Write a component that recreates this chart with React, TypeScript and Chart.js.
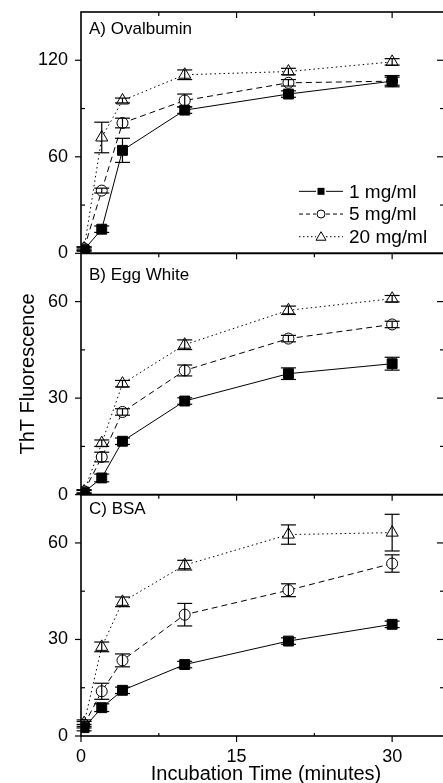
import { useEffect, useRef } from "react";
import { Chart, registerables } from "chart.js";

Chart.register(...registerables);

// ---------- data ----------
const times = [0.3, 2, 4, 10, 20, 30];
const seriesLabels = ["1 mg/ml", "5 mg/ml", "20 mg/ml"];
const panelTitles = ["A) Ovalbumin", "B) Egg White", "C) BSA"];

// A) Ovalbumin
const ova1 = [2.3, 15, 64, 89, 99, 107];
const ova1Err = [1, 2, 7.5, 2, 2, 2.5];
const ova5 = [3, 39, 81, 95, 106, 107];
const ova5Err = [1, 1.5, 3, 4, 2, 3.5];
const ova20 = [3, 72, 95, 111, 113, 119];
const ova20Err = [1, 9.5, 1.5, 3, 2, 2];

// B) Egg White
const egg1 = [0.8, 5.2, 16.6, 29.1, 37.6, 40.7];
const egg1Err = [0.5, 1.2, 1, 1, 1.8, 2];
const egg5 = [1, 11.7, 25.7, 38.6, 48.5, 52.9];
const egg5Err = [0.5, 1.5, 1, 1.7, 1, 1];
const egg20 = [1, 16, 34.5, 46.6, 57.3, 60.9];
const egg20Err = [0.5, 1, 1, 1.5, 1.3, 1];

// C) BSA
const bsa1 = [2.6, 8.8, 14.2, 22.2, 29.5, 34.7];
const bsa1Err = [1, 1.2, 1, 1, 1, 1];
const bsa5 = [3.5, 13.9, 23.5, 37.7, 45.3, 53.6];
const bsa5Err = [1, 2.5, 2, 3.5, 2, 2.7];
const bsa20 = [4, 27.7, 41.7, 53.1, 62.6, 63.2];
const bsa20Err = [1, 1.5, 1.5, 1.5, 3, 5.7];

// ticks
const xMax = 35;
const xTickValues = [0, 7.5, 15, 22.5, 30];
const xTickLabels = [0, 15, 30];
const yMaxA = 150;
const yTicksA = [0, 30, 60, 90, 120, 150];
const yLabelsA = [0, 60, 120];
const yMaxBC = 75;
const yTicksBC = [0, 15, 30, 45, 60, 75];
const yLabelsBC = [0, 30, 60];

const xTitle = "Incubation Time (minutes)";
const yTitle = "ThT Fluorescence";

// ---------- styling ----------
const FONT = "'Liberation Sans', Arial, Helvetica, sans-serif";
const lineDashes = [[], [6, 4], [1.5, 3]];
const pointStyles = ["rect", "circle", "triangle"];
const pointRadii = [7, 5.5, 7];
const pointFills = ["#000", "#fff", "#fff"];

const panels = [
  { id: "yA", title: panelTitles[0], values: [ova1, ova5, ova20], errs: [ova1Err, ova5Err, ova20Err], max: yMaxA, ticks: yTicksA, labels: yLabelsA, weight: 3, titleOffset: 17 },
  { id: "yB", title: panelTitles[1], values: [egg1, egg5, egg20], errs: [egg1Err, egg5Err, egg20Err], max: yMaxBC, ticks: yTicksBC, labels: yLabelsBC, weight: 2, titleOffset: 22 },
  { id: "yC", title: panelTitles[2], values: [bsa1, bsa5, bsa20], errs: [bsa1Err, bsa5Err, bsa20Err], max: yMaxBC, ticks: yTicksBC, labels: yLabelsBC, weight: 1, titleOffset: 15 },
];

function line(ctx: CanvasRenderingContext2D, x1: number, y1: number, x2: number, y2: number) {
  ctx.beginPath();
  ctx.moveTo(x1, y1);
  ctx.lineTo(x2, y2);
  ctx.stroke();
}

function marker(ctx: CanvasRenderingContext2D, style: number, x: number, y: number) {
  ctx.save();
  ctx.setLineDash([]);
  ctx.lineWidth = 1;
  ctx.strokeStyle = "#000";
  ctx.beginPath();
  if (style === 0) {
    ctx.fillStyle = "#000";
    ctx.rect(x - 3.5, y - 3.5, 7, 7);
    ctx.fill();
  } else if (style === 1) {
    ctx.fillStyle = "#fff";
    ctx.arc(x, y, 4, 0, Math.PI * 2);
    ctx.fill();
    ctx.stroke();
  } else {
    ctx.fillStyle = "#fff";
    ctx.moveTo(x, y - 5);
    ctx.lineTo(x + 5, y + 3.5);
    ctx.lineTo(x - 5, y + 3.5);
    ctx.closePath();
    ctx.fill();
    ctx.stroke();
  }
  ctx.restore();
}

function zeroPadding(s: any) {
  s.paddingTop = 0;
  s.paddingBottom = 0;
  s.paddingLeft = 0;
  s.paddingRight = 0;
}

const decorPlugin = {
  id: "decor",
  afterDatasetsDraw(chart: any) {
    const ctx: CanvasRenderingContext2D = chart.ctx;
    const xs = chart.scales.x;
    ctx.save();
    ctx.strokeStyle = "#000";
    ctx.lineWidth = 1.2;
    ctx.setLineDash([]);
    chart.data.datasets.forEach((ds: any) => {
      const ys = chart.scales[ds.yAxisID];
      ds.data.forEach((pt: any, j: number) => {
        const e = ds.err[j];
        const px = xs.getPixelForValue(pt.x);
        const top = ys.getPixelForValue(pt.y + e);
        const bot = ys.getPixelForValue(Math.max(pt.y - e, 0));
        line(ctx, px, top, px, bot);
        line(ctx, px - 7.5, top, px + 7.5, top);
        if (pt.y - e > 0) line(ctx, px - 7.5, bot, px + 7.5, bot);
      });
    });
    ctx.restore();
  },
  afterDraw(chart: any) {
    const ctx: CanvasRenderingContext2D = chart.ctx;
    const area = chart.chartArea;
    const xs = chart.scales.x;
    ctx.save();
    ctx.strokeStyle = "#000";
    ctx.fillStyle = "#000";
    ctx.setLineDash([]);

    panels.forEach((p, pi) => {
      const s = chart.scales[p.id];
      // frame
      ctx.lineWidth = 1.6;
      ctx.strokeRect(area.left, s.top, area.right - area.left, s.bottom - s.top);
      ctx.lineWidth = 1.2;
      // y ticks
      p.ticks.forEach((v) => {
        if (v === p.max) return;
        const py = s.getPixelForValue(v);
        const major = p.labels.includes(v);
        if (major) line(ctx, area.left - 6, py, area.left, py);
        else line(ctx, area.left, py, area.left + 4, py);
        if (v !== 0) {
          if (major) line(ctx, area.right - 7, py, area.right, py);
          else line(ctx, area.right - 4, py, area.right, py);
        }
      });
      // x ticks at panel top (inward)
      xTickValues.forEach((v) => {
        if (v === 0) return;
        const px = xs.getPixelForValue(v);
        const major = xTickLabels.includes(v);
        line(ctx, px, s.top, px, s.top + (major ? 6 : 4));
      });
      // panel title
      ctx.font = `17px ${FONT}`;
      ctx.textAlign = "left";
      ctx.textBaseline = "middle";
      ctx.fillText(p.title, area.left + 8, s.top + p.titleOffset);
      // bottom axis ticks for last panel
      if (pi === panels.length - 1) {
        xTickValues.forEach((v) => {
          const px = xs.getPixelForValue(v);
          const major = xTickLabels.includes(v);
          if (major) line(ctx, px, s.bottom, px, s.bottom + 6);
          else line(ctx, px, s.bottom - 3, px, s.bottom);
        });
      }
    });

    // legend in panel A
    const sA = chart.scales[panels[0].id];
    const dashes = [[], [4, 3], [1.5, 2.5]];
    seriesLabels.forEach((lab, i) => {
      const y = sA.bottom - 62 + i * 22.7;
      const x0 = area.right - 145;
      const xm = area.right - 123;
      const x1 = area.right - 101;
      ctx.save();
      ctx.lineWidth = 1;
      ctx.setLineDash(dashes[i]);
      line(ctx, x0, y, xm - 5, y);
      line(ctx, xm + 5, y, x1, y);
      ctx.restore();
      marker(ctx, i, xm, y);
      ctx.font = `19px ${FONT}`;
      ctx.textAlign = "left";
      ctx.textBaseline = "middle";
      ctx.fillText(lab, area.right - 95, y + 1);
    });

    // axis titles
    ctx.font = `20px ${FONT}`;
    ctx.textAlign = "center";
    ctx.textBaseline = "middle";
    ctx.fillText(xTitle, area.left + 185, chart.height - 9);
    ctx.save();
    ctx.translate(28, (area.top + area.bottom) / 2);
    ctx.rotate(-Math.PI / 2);
    ctx.fillText(yTitle, 0, 0);
    ctx.restore();

    ctx.restore();
  },
};

export default function App() {
  const canvasRef = useRef<HTMLCanvasElement | null>(null);

  useEffect(() => {
    if (!canvasRef.current) return;
    Chart.defaults.font.family = FONT;
    Chart.defaults.color = "#000";

    const datasets: any[] = [];
    panels.forEach((p) => {
      p.values.forEach((vals, s) => {
        datasets.push({
          label: `${p.title} ${seriesLabels[s]}`,
          data: times.map((t, i) => ({ x: t, y: vals[i] })),
          err: p.errs[s],
          yAxisID: p.id,
          xAxisID: "x",
          borderColor: "#000",
          borderWidth: 1,
          borderDash: lineDashes[s],
          pointStyle: pointStyles[s],
          pointRadius: pointRadii[s],
          pointBackgroundColor: pointFills[s],
          pointBorderColor: "#000",
          pointBorderWidth: 1,
          tension: 0,
          fill: false,
        });
      });
    });

    const scales: any = {
      x: {
        type: "linear",
        position: "bottom",
        min: 0,
        max: xMax,
        afterBuildTicks: (s: any) => {
          s.ticks = xTickValues.map((v) => ({ value: v }));
        },
        afterFit: (s: any) => {
          s.height = 47;
          zeroPadding(s);
        },
        ticks: {
          callback: (v: any) => (xTickLabels.includes(Number(v)) ? String(v) : ""),
          font: { size: 18 },
          color: "#000",
          padding: 10,
          maxRotation: 0,
          autoSkip: false,
        },
        grid: { display: false, drawTicks: false },
        border: { display: false },
      },
    };
    panels.forEach((p) => {
      scales[p.id] = {
        type: "linear",
        position: "left",
        stack: "panels",
        stackWeight: 1,
        weight: p.weight,
        min: 0,
        max: p.max,
        afterBuildTicks: (s: any) => {
          s.ticks = p.ticks.map((v) => ({ value: v }));
        },
        afterFit: (s: any) => {
          s.width = 81;
          zeroPadding(s);
        },
        ticks: {
          callback: (v: any) => (p.labels.includes(Number(v)) ? String(v) : ""),
          font: { size: 18 },
          color: "#000",
          padding: 13,
          autoSkip: false,
        },
        grid: { display: false, drawTicks: false },
        border: { display: false },
      };
    });

    const chart = new Chart(canvasRef.current, {
      type: "line",
      data: { datasets },
      options: {
        responsive: false,
        animation: false,
        devicePixelRatio: 1,
        layout: { padding: { top: 12, right: 2, left: 0, bottom: 0 } },
        plugins: { legend: { display: false }, tooltip: { enabled: false }, title: { display: false } },
        scales,
      } as any,
      plugins: [decorPlugin as any],
    });
    return () => chart.destroy();
  }, []);

  return (
    <div style={{ position: "absolute", left: 0, top: 0, width: 443, height: 783, overflow: "hidden", background: "#fff" }}>
      <canvas ref={canvasRef} width={452} height={783} style={{ display: "block", width: 452, height: 783 }} />
    </div>
  );
}
